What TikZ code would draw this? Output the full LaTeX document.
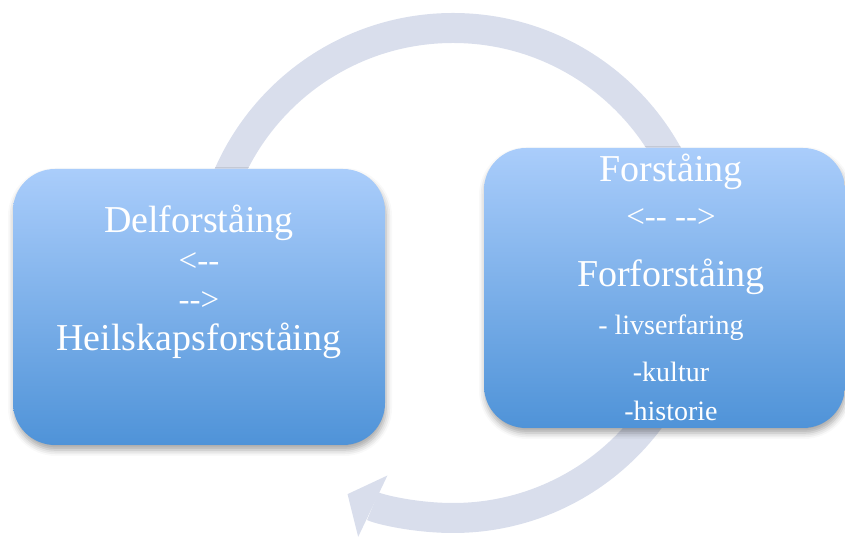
\documentclass[tikz,border=0pt]{standalone}
\usepackage{fontspec}
\setmainfont{Liberation Serif}[Ligatures=TeXOff]
\usetikzlibrary{arrows.meta,shadows.blur}
\definecolor{boxtop}{HTML}{AACDFB}
\definecolor{boxbottom}{HTML}{4F93D8}
\definecolor{loopgrey}{HTML}{D9DEEC}

\begin{document}
\begin{tikzpicture}[x=1pt,y=1pt,
  stage/.style={rectangle,rounded corners=42pt,top color=boxtop,bottom color=boxbottom,
    blur shadow={shadow xshift=1pt,shadow yshift=-5pt,shadow blur radius=6pt,shadow opacity=35}},
  bigtxt/.style={anchor=base,text=white,inner sep=0pt,font=\fontsize{38}{40}\selectfont},
  midtxt/.style={bigtxt,font=\fontsize{33}{36}\selectfont},
  smalltxt/.style={bigtxt,font=\fontsize{28}{32}\selectfont}]
\useasboundingbox (0,0) rectangle (845,540);
\coordinate (mid) at (453,267);
% the circular arrow behind the boxes
\draw[loopgrey,line width=30pt,-{Triangle[length=28pt,width=68pt,line width=0pt]}]
  ([shift={(180:245)}]mid) arc[start angle=180,end angle=-115.5,radius=245];
\node[stage,minimum width=372pt,minimum height=276pt] (del) at (199,233) {};
\node[stage,minimum width=361pt,minimum height=280pt] (for) at (664.5,252) {};
% text lines
\foreach \txt/\ypos/\sty [count=\i] in {Delforståing/307/bigtxt,{<--}/268/midtxt,
    {-->}/229/midtxt,Heilskapsforståing/189/bigtxt}
  {\node[\sty] (del\i) at (199,\ypos) {\txt};}
\foreach \txt/\ypos/\sty [count=\i] in {Forståing/358/bigtxt,{<-- -->}/312/midtxt,
    Forforståing/253/bigtxt,{- livserfaring}/205/smalltxt,{-kultur}/158/smalltxt,
    {-historie}/119/smalltxt}
  {\node[\sty] (for\i) at (671,\ypos) {\txt};}
\end{tikzpicture}
\end{document}
